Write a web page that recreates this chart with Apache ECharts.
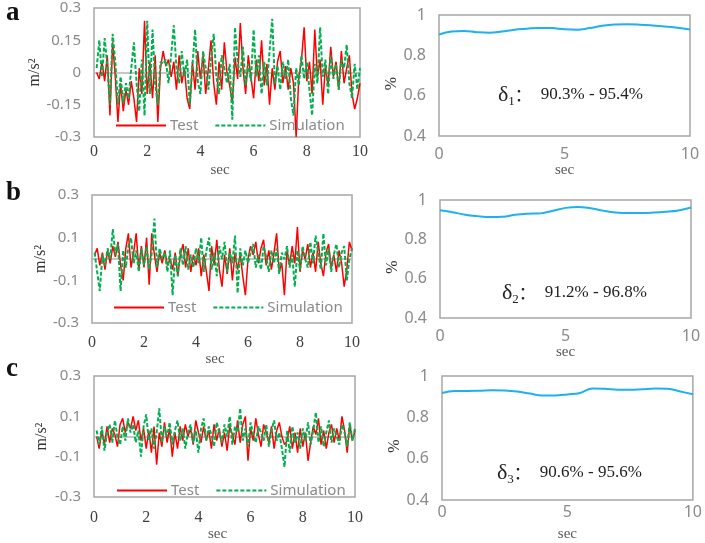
<!DOCTYPE html>
<html>
<head>
<meta charset="utf-8">
<script src="https://cdn.jsdelivr.net/npm/echarts@6/dist/echarts.min.js"></script>
<style>
  html, body { margin: 0; padding: 0; background: #fff; }
  #chart { width: 705px; height: 543px; }
</style>
</head>
<body>
<div id="chart"></div>
<script>
  // sampled every 0.1 s, starting at 0.1 s
  const sampleStart = 0.1, sampleStep = 0.1;

  const testA = [0.00, -0.03, 0.05, -0.04, 0.08, -0.20, 0.14, -0.02, -0.23, -0.05,
    -0.18, -0.08, -0.15, -0.04, -0.12, -0.23, 0.02, -0.10, 0.24, -0.10,
    0.05, -0.12, 0.08, -0.23, 0.02, 0.10, 0.03, 0.06, -0.02, 0.05,
    -0.08, 0.08, -0.05, 0.02, -0.12, -0.17, 0.05, -0.08, 0.10, -0.03,
    0.08, -0.10, 0.02, 0.15, -0.05, -0.15, 0.05, -0.08, 0.14, 0.00,
    -0.06, -0.14, 0.07, -0.03, 0.23, 0.02, -0.10, 0.08, -0.02, -0.12,
    0.06, -0.04, 0.15, -0.06, 0.04, -0.15, 0.02, -0.08, 0.05, 0.10,
    -0.05, 0.03, -0.08, 0.02, -0.05, -0.30, -0.02, 0.06, 0.21, -0.04,
    0.05, -0.10, 0.20, -0.02, 0.06, -0.15, 0.03, -0.06, 0.12, -0.02,
    0.05, -0.08, 0.10, -0.05, 0.02, 0.08, -0.10, -0.17, -0.12, -0.05];
  const simA = [0.02, 0.15, -0.02, 0.16, 0.03, -0.15, 0.18, 0.05, -0.15, -0.02,
    -0.14, -0.05, -0.12, 0.02, 0.14, -0.05, -0.18, 0.06, -0.20, 0.24,
    -0.10, 0.20, -0.05, -0.15, 0.05, 0.04, 0.06, -0.05, 0.08, 0.22,
    0.02, -0.05, 0.10, -0.02, 0.06, -0.15, 0.03, 0.20, -0.04, -0.10,
    0.10, 0.02, -0.08, 0.06, 0.18, -0.02, -0.10, 0.08, 0.02, -0.05,
    0.04, -0.22, 0.21, 0.05, -0.02, 0.12, -0.06, 0.04, -0.04, 0.20,
    -0.02, 0.08, -0.10, 0.05, -0.06, 0.10, 0.25, -0.05, 0.03, -0.08,
    0.05, -0.03, 0.06, -0.12, -0.20, 0.02, -0.06, 0.08, -0.03, 0.05,
    -0.08, -0.20, 0.04, -0.05, 0.21, -0.02, 0.06, -0.10, 0.08, -0.03,
    0.04, -0.08, 0.06, 0.02, 0.13, -0.05, -0.12, 0.04, -0.08, 0.02];

  const testB = [0.02, 0.05, -0.03, 0.03, -0.05, 0.04, -0.02, 0.06, 0.01, 0.08,
    -0.03, -0.10, 0.05, 0.12, -0.04, 0.03, 0.12, -0.05, 0.06, -0.04,
    0.10, -0.12, 0.12, 0.02, -0.06, 0.03, -0.02, 0.04, -0.03, 0.00,
    -0.05, 0.03, -0.08, 0.02, 0.07, -0.04, 0.05, -0.06, 0.02, -0.03,
    0.05, -0.08, 0.02, -0.06, -0.15, 0.06, -0.03, 0.09, -0.05, -0.13,
    0.02, -0.07, 0.05, -0.10, 0.03, -0.05, 0.02, -0.08, -0.17, 0.00,
    0.06, 0.02, 0.08, -0.02, 0.05, 0.09, -0.03, 0.04, -0.05, 0.03,
    0.12, -0.06, -0.02, -0.17, 0.04, -0.03, 0.06, -0.02, 0.15, -0.06,
    0.04, 0.00, 0.07, -0.04, 0.03, -0.06, 0.08, -0.02, -0.08, 0.03,
    0.07, -0.04, 0.02, -0.06, 0.04, -0.02, -0.13, -0.05, 0.08, 0.04];
  const simB = [0.03, -0.06, -0.15, 0.02, -0.03, 0.05, 0.00, 0.14, 0.02, 0.07,
    -0.15, 0.04, -0.04, 0.06, 0.10, -0.02, 0.04, -0.06, 0.05, -0.03,
    0.06, -0.05, 0.03, 0.19, -0.04, 0.05, 0.00, 0.03, -0.06, 0.04,
    -0.17, 0.02, -0.08, 0.05, -0.03, 0.06, -0.05, 0.02, -0.04, 0.05,
    -0.02, 0.10, -0.06, 0.04, 0.10, -0.05, 0.03, -0.08, 0.06, 0.00,
    0.08, -0.06, 0.03, -0.02, 0.11, -0.16, 0.05, -0.03, 0.04, -0.02,
    0.03, 0.07, -0.04, 0.02, -0.05, 0.06, 0.01, -0.06, 0.04, -0.02,
    0.05, -0.07, 0.03, 0.00, 0.06, -0.04, 0.02, -0.13, 0.04, -0.05,
    0.06, 0.00, -0.04, 0.08, -0.02, 0.11, 0.03, -0.05, 0.12, -0.03,
    0.05, -0.06, 0.02, 0.07, -0.04, 0.03, 0.06, -0.10, 0.00, 0.05];

  const testC = [0.00, -0.06, 0.03, -0.04, 0.05, -0.03, 0.04, 0.01, -0.05, 0.06,
    0.09, 0.02, 0.07, 0.04, 0.10, 0.03, 0.08, -0.02, 0.04, -0.06,
    0.03, -0.08, 0.05, -0.14, 0.02, -0.05, 0.07, -0.03, 0.04, -0.10,
    0.02, -0.06, 0.05, -0.02, 0.06, 0.00, 0.04, -0.04, 0.08, 0.02,
    -0.03, 0.05, -0.02, 0.03, -0.06, 0.06, -0.02, 0.04, -0.05, 0.02,
    -0.07, 0.05, 0.01, -0.04, 0.08, -0.03, 0.06, 0.10, -0.12, 0.04,
    -0.02, 0.09, 0.01, -0.05, 0.06, 0.02, -0.03, 0.05, -0.06, 0.03,
    0.07, 0.00, -0.04, -0.02, 0.05, -0.06, 0.02, -0.08, 0.04, -0.05,
    0.02, -0.12, -0.03, 0.05, 0.01, 0.09, -0.04, 0.03, -0.06, 0.02,
    0.06, -0.03, 0.04, -0.02, 0.10, 0.03, -0.08, 0.06, -0.02, 0.03];
  const simC = [0.03, -0.04, 0.05, -0.07, 0.02, 0.06, -0.03, 0.08, 0.00, -0.04,
    0.05, -0.02, 0.09, 0.02, 0.06, -0.03, 0.03, -0.10, 0.05, 0.11,
    -0.02, 0.04, -0.06, 0.02, 0.14, -0.03, 0.05, 0.00, 0.07, -0.04,
    0.03, 0.08, -0.02, 0.04, -0.06, 0.02, 0.06, -0.03, 0.03, -0.08,
    0.04, 0.09, -0.02, 0.05, 0.01, -0.05, 0.07, 0.02, -0.03, 0.06,
    0.00, 0.10, -0.04, 0.05, 0.02, 0.14, -0.02, 0.04, -0.05, 0.07,
    0.01, -0.03, 0.05, 0.02, -0.02, 0.06, -0.05, 0.03, 0.08, -0.02,
    0.02, -0.06, -0.15, 0.03, -0.08, 0.05, -0.03, 0.02, -0.06, 0.04,
    -0.02, 0.07, -0.04, 0.03, 0.12, -0.03, 0.05, -0.05, 0.02, 0.08,
    -0.03, 0.04, 0.00, -0.04, 0.06, 0.02, -0.05, 0.07, -0.02, 0.04];

  // accuracy curves, every 0.5 s from 0 to 10
  const accTimes = [0, 0.5, 1, 1.5, 2, 2.5, 3, 3.5, 4, 4.5, 5, 5.5, 6, 6.5, 7, 7.5, 8, 8.5, 9, 9.5, 10];
  const accA = [0.903, 0.918, 0.921, 0.915, 0.912, 0.918, 0.927, 0.932, 0.936, 0.935, 0.929,
    0.927, 0.935, 0.947, 0.953, 0.954, 0.952, 0.948, 0.943, 0.937, 0.928];
  const accB = [0.948, 0.938, 0.925, 0.918, 0.914, 0.915, 0.925, 0.930, 0.932, 0.945, 0.960,
    0.965, 0.958, 0.946, 0.937, 0.934, 0.934, 0.936, 0.940, 0.947, 0.962];
  const accC = [0.918, 0.928, 0.928, 0.929, 0.931, 0.930, 0.925, 0.915, 0.906, 0.906, 0.911,
    0.918, 0.940, 0.938, 0.934, 0.933, 0.936, 0.939, 0.938, 0.925, 0.912];

  const panelLetters = ['a', 'b', 'c'];
  const deltaSubs = ['1', '2', '3'];
  const deltaRanges = ['90.3% - 95.4%', '91.2% - 96.8%', '90.6% - 95.6%'];

  const SERIF = "'Liberation Serif', 'Times New Roman', serif";
  const SANS = "'Noto Sans', 'DejaVu Sans', sans-serif";
  const GRAY = '#8a8a8a';

  function timed(values) {
    return values.map((v, i) => [+(sampleStart + sampleStep * i).toFixed(1), v]);
  }
  function paired(times, values) {
    return times.map((t, i) => [t, values[i]]);
  }

  // plot boxes in pixels
  const leftBoxes = [
    {left: 94, top: 8, width: 266, height: 129, labelMargin: 7, nameGap: 26, yGap: 44, legendLeft: 115, legendTop: 118},
    {left: 92, top: 195, width: 260, height: 128, labelMargin: 12, nameGap: 23, yGap: 42, legendLeft: 113, legendTop: 300},
    {left: 94, top: 376, width: 261, height: 128, labelMargin: 13, nameGap: 24, yGap: 44, legendLeft: 116, legendTop: 483}
  ];
  const rightBoxes = [
    {left: 439, top: 15, width: 251, height: 121, labelMargin: 10, nameGap: 27, textLeft: 498, textTop: 84},
    {left: 440, top: 200, width: 251, height: 118, labelMargin: 10, nameGap: 26, textLeft: 502, textTop: 282},
    {left: 442, top: 376, width: 251, height: 124, labelMargin: 4, nameGap: 27, textLeft: 497, textTop: 462}
  ];
  const testSets = [testA, testB, testC];
  const simSets = [simA, simB, simC];
  const accSets = [accA, accB, accC];

  const grid = [], xAxis = [], yAxis = [], series = [], legend = [], graphic = [];

  for (let p = 0; p < 3; p++) {
    const lb = leftBoxes[p], rb = rightBoxes[p];
    const gl = grid.length;
    grid.push({left: lb.left, top: lb.top, width: lb.width, height: lb.height,
      show: true, borderColor: '#a6a6a6', borderWidth: 1.5});
    const xl = xAxis.length;
    xAxis.push({
      gridIndex: gl, type: 'value', min: 0, max: 10, interval: 2,
      axisLine: {show: false, onZero: false}, axisTick: {show: false}, splitLine: {show: false},
      axisLabel: {margin: lb.labelMargin, fontFamily: SERIF, fontSize: 16, color: '#404040'},
      name: 'sec', nameLocation: 'middle', nameGap: lb.nameGap,
      nameTextStyle: {fontFamily: SERIF, fontSize: 15, color: '#595959', padding: [0, 14, 0, 0]}
    });
    // zero line
    xAxis.push({
      gridIndex: gl, type: 'value', min: 0, max: 10, position: 'bottom',
      axisLine: {show: true, onZero: true, lineStyle: {color: '#b4b4b4', width: 1.5}},
      axisTick: {show: false}, axisLabel: {show: false}, splitLine: {show: false}
    });
    const yl = yAxis.length;
    yAxis.push({
      gridIndex: gl, type: 'value', min: -0.3, max: 0.3, interval: p === 0 ? 0.15 : 0.2,
      axisLine: {show: false}, axisTick: {show: false}, splitLine: {show: false},
      axisLabel: {margin: 13, fontFamily: SANS, fontSize: 15, color: GRAY,
        formatter: v => String(+v.toFixed(2))},
      name: 'm/s²', nameLocation: 'middle', nameGap: lb.yGap,
      nameTextStyle: {fontFamily: SERIF, fontSize: 16, color: '#333'}
    });
    series.push({
      name: 'Test', type: 'line', xAxisIndex: xl, yAxisIndex: yl, symbol: 'none',
      data: timed(testSets[p]),
      lineStyle: {color: '#ff0000', width: 1.5}, itemStyle: {color: '#ff0000'}
    });
    series.push({
      name: 'Simulation', type: 'line', xAxisIndex: xl, yAxisIndex: yl, symbol: 'none',
      data: timed(simSets[p]),
      lineStyle: {color: '#00b050', width: 2, type: [4, 2]}, itemStyle: {color: '#00b050'}
    });
    legend.push({
      data: ['Test', 'Simulation'], left: lb.legendLeft, top: lb.legendTop, padding: 0,
      itemWidth: 50, itemHeight: 14, itemGap: 16, selectedMode: false,
      itemStyle: {color: 'rgba(0,0,0,0)', borderWidth: 0, opacity: 0},
      textStyle: {fontFamily: SANS, fontSize: 15, color: GRAY, padding: [0, 0, 0, -1]}
    });

    const gr = grid.length;
    grid.push({left: rb.left, top: rb.top, width: rb.width, height: rb.height,
      show: true, borderColor: '#a6a6a6', borderWidth: 1.5});
    const xr = xAxis.length;
    xAxis.push({
      gridIndex: gr, type: 'value', min: 0, max: 10, interval: 5,
      axisLine: {show: false}, axisTick: {show: false}, splitLine: {show: false},
      axisLabel: {margin: rb.labelMargin, fontFamily: SANS, fontSize: 16, color: GRAY},
      name: 'sec', nameLocation: 'middle', nameGap: rb.nameGap,
      nameTextStyle: {fontFamily: SERIF, fontSize: 15, color: '#595959'}
    });
    const yr = yAxis.length;
    yAxis.push({
      gridIndex: gr, type: 'value', min: 0.4, max: 1, interval: 0.2,
      axisLine: {show: false}, axisTick: {show: false}, splitLine: {show: false},
      axisLabel: {margin: 13, fontFamily: SANS, fontSize: 16, color: GRAY,
        formatter: v => String(+v.toFixed(1))},
      name: '%', nameLocation: 'middle', nameGap: 38,
      nameTextStyle: {fontFamily: SERIF, fontSize: 16, color: '#333', padding: [0, 0, 0, -16]}
    });
    series.push({
      name: 'acc' + p, type: 'line', xAxisIndex: xr, yAxisIndex: yr, symbol: 'none',
      smooth: 0.4, data: paired(accTimes, accSets[p]),
      lineStyle: {color: '#1cb1f0', width: 2}
    });

    graphic.push({
      type: 'text', left: rb.textLeft, top: rb.textTop,
      style: {
        text: '{d|δ}{s|' + deltaSubs[p] + '}{c|：}{t|' + deltaRanges[p] + '}',
        rich: {
          d: {fontFamily: SERIF, fontSize: 22, fill: '#222', lineHeight: 26},
          s: {fontFamily: SERIF, fontSize: 13, fill: '#222', verticalAlign: 'bottom', lineHeight: 14},
          c: {fontFamily: "'Noto Sans CJK SC', sans-serif", fontSize: 17, fill: '#222', lineHeight: 26, width: 26},
          t: {fontFamily: SERIF, fontSize: 17, fill: '#222', lineHeight: 26}
        }
      }
    });
    graphic.push({
      type: 'text', left: 6, top: [0, 180, 356][p],
      style: {text: panelLetters[p], fontFamily: SERIF, fontSize: 27, fontWeight: 'bold', fill: '#111'}
    });
  }

  const chart = echarts.init(document.getElementById('chart'));
  chart.setOption({
    animation: false,
    backgroundColor: '#fff',
    grid: grid,
    xAxis: xAxis,
    yAxis: yAxis,
    legend: legend,
    series: series,
    graphic: graphic
  });
</script>
</body>
</html>
